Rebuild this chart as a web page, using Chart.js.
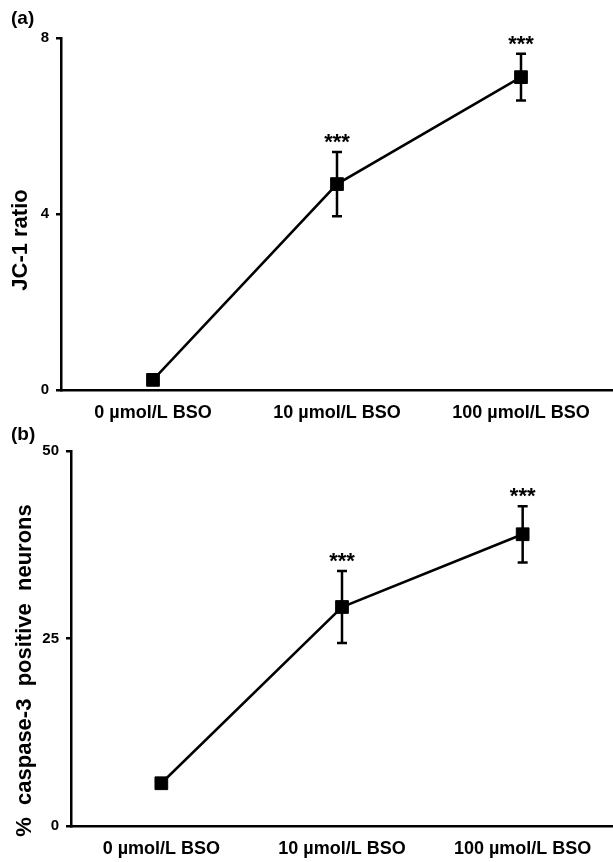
<!DOCTYPE html>
<html>
<head>
<meta charset="utf-8">
<script src="https://cdn.jsdelivr.net/npm/chart.js@4.4.0/dist/chart.umd.min.js"></script>
<style>
  html, body { margin: 0; padding: 0; background: #fff; overflow: hidden; }
  .panel { position: relative; width: 613px; }
  #panel-a { height: 424px; }
  #panel-b { height: 438px; }
</style>
</head>
<body>
<div class="panel" id="panel-a"><canvas id="chart-a"></canvas></div>
<div class="panel" id="panel-b"><canvas id="chart-b"></canvas></div>
<script>
const doses = ['0 µmol/L BSO', '10 µmol/L BSO', '100 µmol/L BSO'];

// (a) JC-1 ratio, mean and error
const jc1Mean = [0.23, 4.68, 7.11];
const jc1Err = [0, 0.73, 0.53];
const jc1Stars = ['', '***', '***'];
const jc1Ticks = [0, 4, 8];

// (b) % caspase-3 positive neurons
const caspMean = [5.7, 29.2, 38.9];
const caspErr = [0, 4.8, 3.75];
const caspStars = ['', '***', '***'];
const caspTicks = [0, 25, 50];

const FONT = '"Liberation Sans", Arial, Helvetica, sans-serif';

// error bars + significance stars
const errorBars = {
  id: 'errorBars',
  afterDatasetsDraw(chart, args, opts) {
    const { ctx } = chart;
    const y = chart.scales.y;
    const meta = chart.getDatasetMeta(0);
    ctx.save();
    ctx.strokeStyle = '#000';
    ctx.fillStyle = '#000';
    ctx.lineWidth = 2.5;
    ctx.font = 'bold 22px ' + FONT;
    ctx.textAlign = 'center';
    ctx.textBaseline = 'alphabetic';
    meta.data.forEach((pt, i) => {
      const m = opts.mean[i];
      const e = opts.err[i];
      const top = y.getPixelForValue(m + e);
      if (e > 0) {
        const bot = y.getPixelForValue(m - e);
        ctx.beginPath();
        ctx.moveTo(pt.x, top);
        ctx.lineTo(pt.x, bot);
        ctx.moveTo(pt.x - 5, top);
        ctx.lineTo(pt.x + 5, top);
        ctx.moveTo(pt.x - 5, bot);
        ctx.lineTo(pt.x + 5, bot);
        ctx.stroke();
      }
      if (opts.stars[i]) ctx.fillText(opts.stars[i], pt.x, top - 3);
    });
    ctx.restore();
  },
};

// panel letter and rotated y title
const panelText = {
  id: 'panelText',
  afterDraw(chart, args, opts) {
    const { ctx, chartArea } = chart;
    ctx.save();
    ctx.fillStyle = '#000';
    ctx.font = 'bold 19px ' + FONT;
    ctx.textAlign = 'left';
    ctx.textBaseline = 'middle';
    ctx.fillText(opts.tag, 11, opts.tagY);
    ctx.font = 'bold 22px ' + FONT;
    ctx.textAlign = 'center';
    ctx.translate(opts.titleX, (chartArea.top + chartArea.bottom) / 2 + opts.titleShift);
    ctx.rotate(-Math.PI / 2);
    ctx.fillText(opts.title, 0, 0);
    ctx.restore();
  },
};

const makeChart = (id, mean, err, stars, ticks, p) => {
  return new Chart(document.getElementById(id), {
    type: 'line',
    data: {
      labels: doses,
      datasets: [
        {
          data: mean,
          borderColor: '#000',
          borderWidth: 2.5,
          tension: 0,
          pointStyle: 'rect',
          pointRadius: 9,
          pointBackgroundColor: '#000',
          pointBorderColor: '#000',
          pointBorderWidth: 1,
        },
      ],
    },
    plugins: [errorBars, panelText],
    options: {
      responsive: true,
      maintainAspectRatio: false,
      animation: false,
      layout: { autoPadding: false, padding: { top: p.top, right: 0, bottom: 0, left: 0 } },
      plugins: {
        legend: { display: false },
        tooltip: { enabled: false },
        errorBars: { mean, err, stars },
        panelText: { tag: p.tag, tagY: p.tagY, title: p.title, titleX: p.titleX, titleShift: p.titleShift },
      },
      scales: {
        x: {
          offset: true,
          grid: { display: false, drawTicks: false },
          border: { display: true, color: '#000', width: 2.5 },
          ticks: {
            color: '#000',
            font: { family: FONT, weight: 'bold', size: 18 },
            padding: 12,
            maxRotation: 0,
            autoSkip: false,
          },
          afterFit: (s) => { s.height = p.xh; },
        },
        y: {
          min: 0,
          max: ticks[ticks.length - 1],
          afterBuildTicks: (s) => { s.ticks = ticks.map((v) => ({ value: v })); },
          grid: { drawOnChartArea: false, drawTicks: true, tickLength: 5, color: '#000', lineWidth: 2.5 },
          border: { display: true, color: '#000', width: 2.5 },
          ticks: {
            color: '#000',
            font: { family: FONT, weight: 'bold', size: 15 },
            padding: 7,
          },
          afterFit: (s) => { s.width = p.left; },
        },
      },
    },
  });
};

makeChart('chart-a', jc1Mean, jc1Err, jc1Stars, jc1Ticks, {
  top: 38, xh: 34, left: 61, tag: '(a)', tagY: 19,
  title: 'JC-1 ratio', titleX: 21, titleShift: 26,
});

makeChart('chart-b', caspMean, caspErr, caspStars, caspTicks, {
  top: 27, xh: 36, left: 71, tag: '(b)', tagY: 11,
  title: '%  caspase-3  positive  neurons', titleX: 25, titleShift: 32,
});
</script>
</body>
</html>
